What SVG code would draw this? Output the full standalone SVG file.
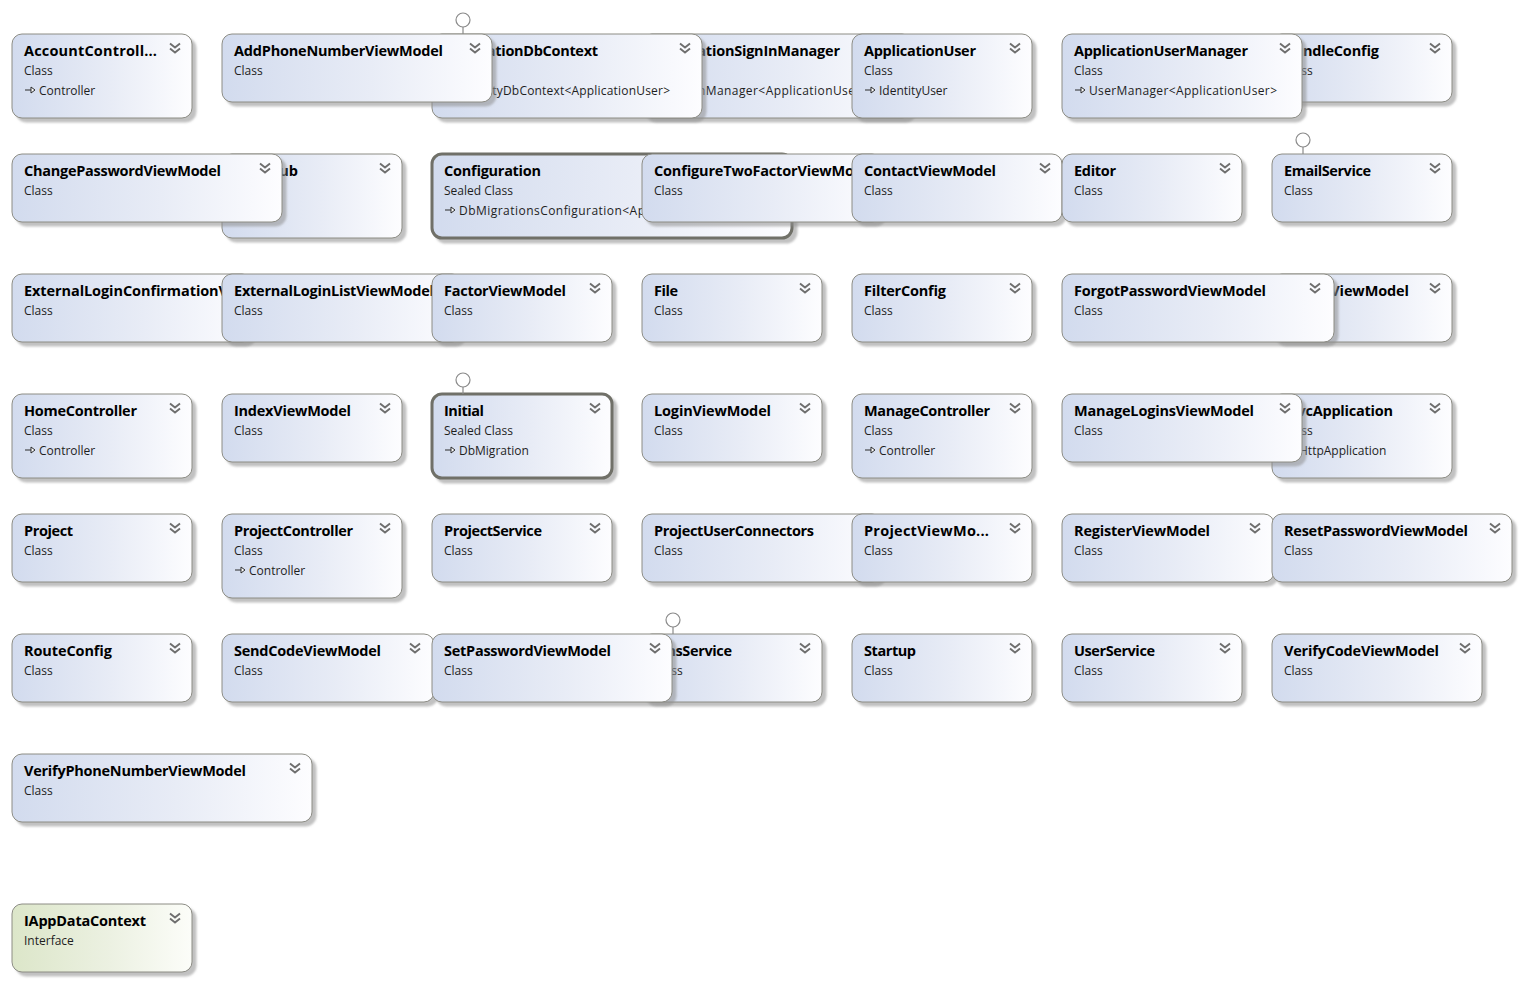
<svg xmlns="http://www.w3.org/2000/svg" width="1524" height="983" viewBox="0 0 1524 983">
<style>
  .card { fill: url(#gClass); stroke: #8c8c84; stroke-width: 1; filter: url(#shadow); }
  .iface { fill: url(#gIface); }
  .sel { stroke: #6f6f67; stroke-width: 3; }
  .title { font-family: "Open Sans", "Noto Sans", "Liberation Sans", sans-serif; font-weight: 700; font-size: 14.5px; fill: #000; }
  .sub { font-family: "Open Sans", "Noto Sans", "Liberation Sans", sans-serif; font-size: 12px; fill: #1e1e1e; }
  .chev { fill: none; stroke: #6e6e6e; stroke-width: 1.9; }
  .inh { fill: #fff; stroke: #2a2a2a; stroke-width: 1; }
  .lolli { fill: #fff; stroke: #8a8a8a; stroke-width: 1.2; }
</style>
<defs>
  <linearGradient id="gClass" x1="0" y1="0" x2="1" y2="0">
    <stop offset="0" stop-color="#d2dbee"/>
    <stop offset="0.55" stop-color="#e8ecf6"/>
    <stop offset="1" stop-color="#fdfdff"/>
  </linearGradient>
  <linearGradient id="gIface" x1="0" y1="0" x2="1" y2="0">
    <stop offset="0" stop-color="#dce6c9"/>
    <stop offset="0.55" stop-color="#ecf1e2"/>
    <stop offset="1" stop-color="#fcfdf9"/>
  </linearGradient>
  <filter id="shadow" x="-5%" y="-5%" width="115%" height="130%">
    <feDropShadow dx="4" dy="4" stdDeviation="1.3" flood-color="#8f8f8f" flood-opacity="0.55"/>
  </filter>
  <!-- text area of a card whose right part sits under its neighbour -->
  <clipPath id="clip210"><rect x="0" y="0" width="210" height="90"/></clipPath>
  <!-- collapse/expand double chevron -->
  <g id="chev" class="chev">
    <path d="M-5,-4.5 L0,-0.5 L5,-4.5"/>
    <path d="M-5,0.5 L0,4.5 L5,0.5"/>
  </g>
  <!-- base-type arrow -->
  <g id="inh">
    <path d="M0,0 H6" stroke="#2a2a2a" stroke-width="1"/>
    <path class="inh" d="M6,-3 L10,0 L6,3 Z"/>
  </g>
  <!-- implemented-interface lollipop -->
  <g id="lolli">
    <path d="M0,-7 V0" stroke="#8a8a8a" stroke-width="1.2"/>
    <circle class="lolli" cx="0" cy="-14" r="7"/>
  </g>
</defs>

<!-- Row 1 -->
<g id="AccountController" transform="translate(12,34)">
  <rect class="card" width="180" height="84" rx="10"/>
  <text class="title" x="12" y="22" textLength="133">AccountControll...</text>
  <use href="#chev" x="163" y="14"/>
  <text class="sub" x="12" y="40.5">Class</text>
  <use href="#inh" x="13" y="56"/><text class="sub" x="27" y="60.5">Controller</text>
</g>
<g id="ApplicationSignInManager" transform="translate(642,34)">
  <rect class="card" width="270" height="84" rx="10"/>
  <g clip-path="url(#clip210)">
    <text class="title" x="12" y="22" textLength="186">ApplicationSignInManager</text>
    <text class="sub" x="12" y="40.5">Class</text>
    <use href="#inh" x="13" y="56"/><text class="sub" x="27" y="60.5" textLength="186">SignInManager&lt;ApplicationUse</text>
  </g>
</g>
<g id="ApplicationDbContext" transform="translate(432,34)">
  <rect class="card" width="270" height="84" rx="10"/>
  <use href="#lolli" x="31" y="0"/>
  <text class="title" x="12" y="22" textLength="154">ApplicationDbContext</text>
  <use href="#chev" x="253" y="14"/>
  <text class="sub" x="12" y="40.5">Class</text>
  <use href="#inh" x="13" y="56"/><text class="sub" x="27" y="60.5" textLength="211">IdentityDbContext&lt;ApplicationUser&gt;</text>
</g>
<g id="AddPhoneNumberViewModel" transform="translate(222,34)">
  <rect class="card" width="270" height="68" rx="10"/>
  <text class="title" x="12" y="22" textLength="209">AddPhoneNumberViewModel</text>
  <use href="#chev" x="253" y="14"/>
  <text class="sub" x="12" y="40.5">Class</text>
</g>
<g id="ApplicationUser" transform="translate(852,34)">
  <rect class="card" width="180" height="84" rx="10"/>
  <text class="title" x="12" y="22" textLength="112">ApplicationUser</text>
  <use href="#chev" x="163" y="14"/>
  <text class="sub" x="12" y="40.5">Class</text>
  <use href="#inh" x="13" y="56"/><text class="sub" x="27" y="60.5">IdentityUser</text>
</g>
<g id="BundleConfig" transform="translate(1272,34)">
  <rect class="card" width="180" height="68" rx="10"/>
  <text class="title" x="12" y="22" textLength="95">BundleConfig</text>
  <use href="#chev" x="163" y="14"/>
  <text class="sub" x="12" y="40.5">Class</text>
</g>
<g id="ApplicationUserManager" transform="translate(1062,34)">
  <rect class="card" width="240" height="84" rx="10"/>
  <text class="title" x="12" y="22" textLength="174">ApplicationUserManager</text>
  <use href="#chev" x="223" y="14"/>
  <text class="sub" x="12" y="40.5">Class</text>
  <use href="#inh" x="13" y="56"/><text class="sub" x="27" y="60.5" textLength="188">UserManager&lt;ApplicationUser&gt;</text>
</g>

<!-- Row 2 -->
<g id="ChatHub" transform="translate(222,154)">
  <rect class="card" width="180" height="84" rx="10"/>
  <text class="title" x="12" y="22" textLength="64">ChatHub</text>
  <use href="#chev" x="163" y="14"/>
  <text class="sub" x="12" y="40.5">Class</text>
  <use href="#inh" x="13" y="56"/><text class="sub" x="27" y="60.5">Hub</text>
</g>
<g id="ChangePasswordViewModel" transform="translate(12,154)">
  <rect class="card" width="270" height="68" rx="10"/>
  <text class="title" x="12" y="22" textLength="197">ChangePasswordViewModel</text>
  <use href="#chev" x="253" y="14"/>
  <text class="sub" x="12" y="40.5">Class</text>
</g>
<g id="Configuration" transform="translate(432,154)">
  <rect class="card sel" width="360" height="84" rx="10"/>
  <text class="title" x="12" y="22" textLength="97">Configuration</text>
  <text class="sub" x="12" y="40.5">Sealed Class</text>
  <g clip-path="url(#clip210)">
    <use href="#inh" x="13" y="56"/><text class="sub" x="27" y="60.5" textLength="186">DbMigrationsConfiguration&lt;Ap</text>
  </g>
</g>
<g id="ConfigureTwoFactorViewModel" transform="translate(642,154)">
  <rect class="card" width="240" height="68" rx="10"/>
  <g clip-path="url(#clip210)">
    <text class="title" x="12" y="22" textLength="200">ConfigureTwoFactorViewMo</text>
    <text class="sub" x="12" y="40.5">Class</text>
  </g>
</g>
<g id="ContactViewModel" transform="translate(852,154)">
  <rect class="card" width="210" height="68" rx="10"/>
  <text class="title" x="12" y="22" textLength="132">ContactViewModel</text>
  <use href="#chev" x="193" y="14"/>
  <text class="sub" x="12" y="40.5">Class</text>
</g>
<g id="Editor" transform="translate(1062,154)">
  <rect class="card" width="180" height="68" rx="10"/>
  <text class="title" x="12" y="22" textLength="42">Editor</text>
  <use href="#chev" x="163" y="14"/>
  <text class="sub" x="12" y="40.5">Class</text>
</g>
<g id="EmailService" transform="translate(1272,154)">
  <rect class="card" width="180" height="68" rx="10"/>
  <use href="#lolli" x="31" y="0"/>
  <text class="title" x="12" y="22" textLength="87">EmailService</text>
  <use href="#chev" x="163" y="14"/>
  <text class="sub" x="12" y="40.5">Class</text>
</g>

<!-- Row 3 -->
<g id="ExternalLoginConfirmationViewModel" transform="translate(12,274)">
  <rect class="card" width="240" height="68" rx="10"/>
  <g clip-path="url(#clip210)">
    <text class="title" x="12" y="22" textLength="204">ExternalLoginConfirmationV</text>
    <text class="sub" x="12" y="40.5">Class</text>
  </g>
</g>
<g id="ExternalLoginListViewModel" transform="translate(222,274)">
  <rect class="card" width="240" height="68" rx="10"/>
  <text class="title" x="12" y="22" textLength="200">ExternalLoginListViewModel</text>
  <text class="sub" x="12" y="40.5">Class</text>
</g>
<g id="FactorViewModel" transform="translate(432,274)">
  <rect class="card" width="180" height="68" rx="10"/>
  <text class="title" x="12" y="22" textLength="122">FactorViewModel</text>
  <use href="#chev" x="163" y="14"/>
  <text class="sub" x="12" y="40.5">Class</text>
</g>
<g id="File" transform="translate(642,274)">
  <rect class="card" width="180" height="68" rx="10"/>
  <text class="title" x="12" y="22" textLength="24">File</text>
  <use href="#chev" x="163" y="14"/>
  <text class="sub" x="12" y="40.5">Class</text>
</g>
<g id="FilterConfig" transform="translate(852,274)">
  <rect class="card" width="180" height="68" rx="10"/>
  <text class="title" x="12" y="22" textLength="82">FilterConfig</text>
  <use href="#chev" x="163" y="14"/>
  <text class="sub" x="12" y="40.5">Class</text>
</g>
<g id="ForgotViewModel" transform="translate(1272,274)">
  <rect class="card" width="180" height="68" rx="10"/>
  <text class="title" x="12" y="22" textLength="125">ForgotViewModel</text>
  <use href="#chev" x="163" y="14"/>
  <text class="sub" x="12" y="40.5">Class</text>
</g>
<g id="ForgotPasswordViewModel" transform="translate(1062,274)">
  <rect class="card" width="272" height="68" rx="10"/>
  <text class="title" x="12" y="22" textLength="192">ForgotPasswordViewModel</text>
  <use href="#chev" x="253" y="14"/>
  <text class="sub" x="12" y="40.5">Class</text>
</g>

<!-- Row 4 -->
<g id="HomeController" transform="translate(12,394)">
  <rect class="card" width="180" height="84" rx="10"/>
  <text class="title" x="12" y="22" textLength="113">HomeController</text>
  <use href="#chev" x="163" y="14"/>
  <text class="sub" x="12" y="40.5">Class</text>
  <use href="#inh" x="13" y="56"/><text class="sub" x="27" y="60.5">Controller</text>
</g>
<g id="IndexViewModel" transform="translate(222,394)">
  <rect class="card" width="180" height="68" rx="10"/>
  <text class="title" x="12" y="22" textLength="117">IndexViewModel</text>
  <use href="#chev" x="163" y="14"/>
  <text class="sub" x="12" y="40.5">Class</text>
</g>
<g id="Initial" transform="translate(432,394)">
  <rect class="card sel" width="180" height="84" rx="10"/>
  <use href="#lolli" x="31" y="0"/>
  <text class="title" x="12" y="22" textLength="40">Initial</text>
  <use href="#chev" x="163" y="14"/>
  <text class="sub" x="12" y="40.5">Sealed Class</text>
  <use href="#inh" x="13" y="56"/><text class="sub" x="27" y="60.5">DbMigration</text>
</g>
<g id="LoginViewModel" transform="translate(642,394)">
  <rect class="card" width="180" height="68" rx="10"/>
  <text class="title" x="12" y="22" textLength="117">LoginViewModel</text>
  <use href="#chev" x="163" y="14"/>
  <text class="sub" x="12" y="40.5">Class</text>
</g>
<g id="ManageController" transform="translate(852,394)">
  <rect class="card" width="180" height="84" rx="10"/>
  <text class="title" x="12" y="22" textLength="126">ManageController</text>
  <use href="#chev" x="163" y="14"/>
  <text class="sub" x="12" y="40.5">Class</text>
  <use href="#inh" x="13" y="56"/><text class="sub" x="27" y="60.5">Controller</text>
</g>
<g id="MvcApplication" transform="translate(1272,394)">
  <rect class="card" width="180" height="84" rx="10"/>
  <text class="title" x="12" y="22" textLength="109">MvcApplication</text>
  <use href="#chev" x="163" y="14"/>
  <text class="sub" x="12" y="40.5">Class</text>
  <use href="#inh" x="13" y="56"/><text class="sub" x="27" y="60.5">HttpApplication</text>
</g>
<g id="ManageLoginsViewModel" transform="translate(1062,394)">
  <rect class="card" width="240" height="68" rx="10"/>
  <text class="title" x="12" y="22" textLength="180">ManageLoginsViewModel</text>
  <use href="#chev" x="223" y="14"/>
  <text class="sub" x="12" y="40.5">Class</text>
</g>

<!-- Row 5 -->
<g id="Project" transform="translate(12,514)">
  <rect class="card" width="180" height="68" rx="10"/>
  <text class="title" x="12" y="22" textLength="49">Project</text>
  <use href="#chev" x="163" y="14"/>
  <text class="sub" x="12" y="40.5">Class</text>
</g>
<g id="ProjectController" transform="translate(222,514)">
  <rect class="card" width="180" height="84" rx="10"/>
  <text class="title" x="12" y="22" textLength="119">ProjectController</text>
  <use href="#chev" x="163" y="14"/>
  <text class="sub" x="12" y="40.5">Class</text>
  <use href="#inh" x="13" y="56"/><text class="sub" x="27" y="60.5">Controller</text>
</g>
<g id="ProjectService" transform="translate(432,514)">
  <rect class="card" width="180" height="68" rx="10"/>
  <text class="title" x="12" y="22" textLength="98">ProjectService</text>
  <use href="#chev" x="163" y="14"/>
  <text class="sub" x="12" y="40.5">Class</text>
</g>
<g id="ProjectUserConnectors" transform="translate(642,514)">
  <rect class="card" width="240" height="68" rx="10"/>
  <text class="title" x="12" y="22" textLength="160">ProjectUserConnectors</text>
  <text class="sub" x="12" y="40.5">Class</text>
</g>
<g id="ProjectViewModel" transform="translate(852,514)">
  <rect class="card" width="180" height="68" rx="10"/>
  <text class="title" x="12" y="22" textLength="125">ProjectViewMo...</text>
  <use href="#chev" x="163" y="14"/>
  <text class="sub" x="12" y="40.5">Class</text>
</g>
<g id="RegisterViewModel" transform="translate(1062,514)">
  <rect class="card" width="212" height="68" rx="10"/>
  <text class="title" x="12" y="22" textLength="136">RegisterViewModel</text>
  <use href="#chev" x="193" y="14"/>
  <text class="sub" x="12" y="40.5">Class</text>
</g>
<g id="ResetPasswordViewModel" transform="translate(1272,514)">
  <rect class="card" width="240" height="68" rx="10"/>
  <text class="title" x="12" y="22" textLength="184">ResetPasswordViewModel</text>
  <use href="#chev" x="223" y="14"/>
  <text class="sub" x="12" y="40.5">Class</text>
</g>

<!-- Row 6 -->
<g id="RouteConfig" transform="translate(12,634)">
  <rect class="card" width="180" height="68" rx="10"/>
  <text class="title" x="12" y="22" textLength="88">RouteConfig</text>
  <use href="#chev" x="163" y="14"/>
  <text class="sub" x="12" y="40.5">Class</text>
</g>
<g id="SendCodeViewModel" transform="translate(222,634)">
  <rect class="card" width="212" height="68" rx="10"/>
  <text class="title" x="12" y="22" textLength="147">SendCodeViewModel</text>
  <use href="#chev" x="193" y="14"/>
  <text class="sub" x="12" y="40.5">Class</text>
</g>
<g id="SmsService" transform="translate(642,634)">
  <rect class="card" width="180" height="68" rx="10"/>
  <use href="#lolli" x="31" y="0"/>
  <text class="title" x="12" y="22" textLength="78">SmsService</text>
  <use href="#chev" x="163" y="14"/>
  <text class="sub" x="12" y="40.5">Class</text>
</g>
<g id="SetPasswordViewModel" transform="translate(432,634)">
  <rect class="card" width="240" height="68" rx="10"/>
  <text class="title" x="12" y="22" textLength="167">SetPasswordViewModel</text>
  <use href="#chev" x="223" y="14"/>
  <text class="sub" x="12" y="40.5">Class</text>
</g>
<g id="Startup" transform="translate(852,634)">
  <rect class="card" width="180" height="68" rx="10"/>
  <text class="title" x="12" y="22" textLength="52">Startup</text>
  <use href="#chev" x="163" y="14"/>
  <text class="sub" x="12" y="40.5">Class</text>
</g>
<g id="UserService" transform="translate(1062,634)">
  <rect class="card" width="180" height="68" rx="10"/>
  <text class="title" x="12" y="22" textLength="81">UserService</text>
  <use href="#chev" x="163" y="14"/>
  <text class="sub" x="12" y="40.5">Class</text>
</g>
<g id="VerifyCodeViewModel" transform="translate(1272,634)">
  <rect class="card" width="210" height="68" rx="10"/>
  <text class="title" x="12" y="22" textLength="155">VerifyCodeViewModel</text>
  <use href="#chev" x="193" y="14"/>
  <text class="sub" x="12" y="40.5">Class</text>
</g>

<!-- Row 7 -->
<g id="VerifyPhoneNumberViewModel" transform="translate(12,754)">
  <rect class="card" width="300" height="68" rx="10"/>
  <text class="title" x="12" y="22" textLength="222">VerifyPhoneNumberViewModel</text>
  <use href="#chev" x="283" y="14"/>
  <text class="sub" x="12" y="40.5">Class</text>
</g>

<!-- Interfaces -->
<g id="IAppDataContext" transform="translate(12,904)">
  <rect class="card iface" width="180" height="68" rx="10"/>
  <text class="title" x="12" y="22" textLength="122">IAppDataContext</text>
  <use href="#chev" x="163" y="14"/>
  <text class="sub" x="12" y="40.5">Interface</text>
</g>
</svg>
